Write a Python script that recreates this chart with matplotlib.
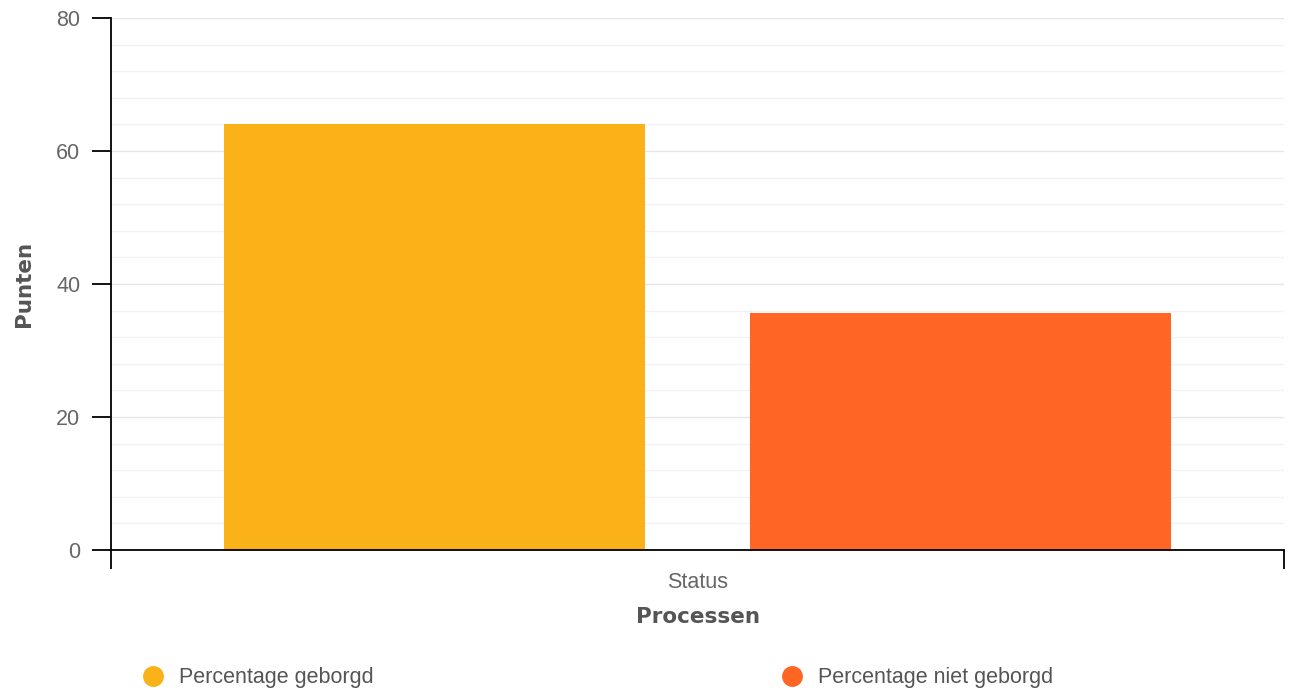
import matplotlib.pyplot as plt
import numpy as np
from matplotlib.ticker import MultipleLocator

# data
category = "Status"
series = ["Percentage geborgd", "Percentage niet geborgd"]
values = [64.0, 35.6]
colors = ["#FBB118", "#FF6523"]

fig = plt.figure(figsize=(12.96, 6.96), dpi=100)
ax = fig.add_axes([111/1296, 1-550/696, (1284-111)/1296, (550-18)/696])

width = 0.359
offsets = [-0.2245, 0.2245]
for name, v, c, off in zip(series, values, colors, offsets):
    ax.bar(off, v, width=width, color=c, label=name, zorder=2)

ax.set_xlim(-0.5, 0.5)
ax.set_ylim(0, 80)

ax.yaxis.set_major_locator(MultipleLocator(20))
ax.yaxis.set_minor_locator(MultipleLocator(4))
ax.grid(axis="y", which="major", color="#e6e6e6", lw=1, zorder=0)
ax.grid(axis="y", which="minor", color="#f2f2f2", lw=1, zorder=0)

ax.set_xticks([0])
ax.set_xticklabels([category])
ax.set_xticks([-0.5, 0.5], minor=True)
ax.tick_params(axis="x", which="major", length=0, pad=16, labelsize=15.5, labelcolor="#666666")
ax.tick_params(axis="x", which="minor", length=13.5, width=1.3, color="black")
ax.tick_params(axis="y", which="major", length=14, width=1.3, color="black", pad=8,
               labelsize=15.5, labelcolor="#666666")
ax.tick_params(axis="y", which="minor", length=0)

for lab in ax.get_xticklabels() + ax.get_yticklabels():
    lab.set_family("Liberation Sans")

for s in ["top", "right"]:
    ax.spines[s].set_visible(False)
for s in ["left", "bottom"]:
    ax.spines[s].set_color("black")
    ax.spines[s].set_linewidth(1.3)
    ax.spines[s].set_zorder(3)

ax.set_xlabel("Processen", fontsize=15.5, fontweight="bold", color="#555555", labelpad=10)
ax.set_ylabel("Punten", fontsize=15.5, fontweight="bold", color="#555555", labelpad=16)

handles = [plt.Line2D([], [], marker="o", ls="", markersize=14, color=c) for c in colors]
fig.legend(handles, series, loc="center left", bbox_to_anchor=(0.095, 1-678/696), ncol=2,
           frameon=False, handletextpad=0.7, columnspacing=18.95, handlelength=1.0,
           prop={"family": "Liberation Sans", "size": 15.5}, labelcolor="#555555")

fig.savefig("out.png", dpi=100)
